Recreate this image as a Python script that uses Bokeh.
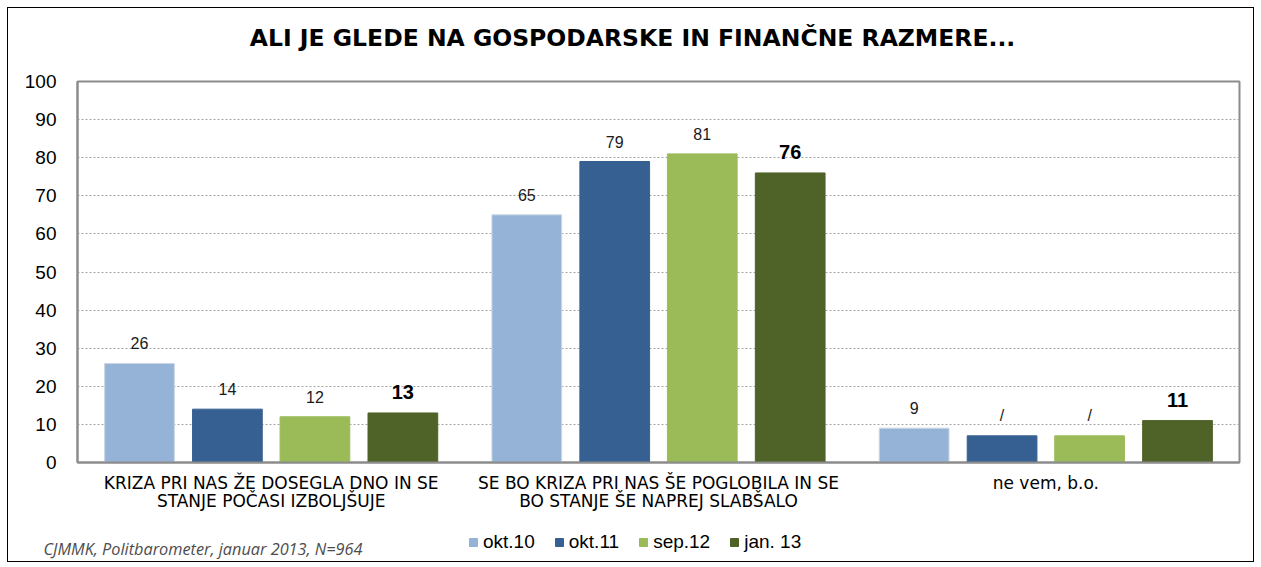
from bokeh.plotting import figure
from bokeh.layouts import column
from bokeh.models import (FactorRange, Range1d, ColumnDataSource, Legend, LegendItem,
                          Label, FixedTicker)
from bokeh.transform import dodge
from bokeh.core.properties import value
from bokeh.embed import file_html
from bokeh.resources import INLINE

categories = ["KRIZA PRI NAS ŽE DOSEGLA DNO IN SE\nSTANJE POČASI IZBOLJŠUJE",
              "SE BO KRIZA PRI NAS ŠE POGLOBILA IN SE\nBO STANJE ŠE NAPREJ SLABŠALO",
              "ne vem, b.o."]
series = ["okt.10", "okt.11", "sep.12", "jan. 13"]
okt10 = [26, 65, 9]
okt11 = [14, 79, 7]
sep12 = [12, 81, 7]
jan13 = [13, 76, 11]
okt10_labels = ["26", "65", "9"]
okt11_labels = ["14", "79", "/"]
sep12_labels = ["12", "81", "/"]
jan13_labels = ["13", "76", "11"]
colors = ["#95B3D7", "#376092", "#9BBB59", "#4F6228"]
y_ticks = [0, 10, 20, 30, 40, 50, 60, 70, 80, 90, 100]
title_text = "ALI JE GLEDE NA GOSPODARSKE IN FINANČNE RAZMERE..."
source_text = "CJMMK, Politbarometer, januar 2013, N=964"

FONT = "Liberation Sans"


def blank_strip(height):
    f = figure(width=1245, height=height, output_backend="svg", toolbar_location=None,
               x_range=Range1d(0, 1), y_range=Range1d(0, 1),
               x_axis_location=None, y_axis_location=None,
               min_border_left=0, min_border_right=0, min_border_top=0, min_border_bottom=0)
    f.outline_line_color = None
    f.xgrid.grid_line_color = None
    f.ygrid.grid_line_color = None
    f.frame_align = False
    return f


# top strip: title
p0 = blank_strip(60)
p0.add_layout(Label(x=624, y=31, x_units="screen", y_units="screen", text=title_text,
                    text_font="DejaVu Sans", text_font_size="23.5px", text_font_style="bold",
                    text_align="center", text_baseline="middle", text_color="#000000"))

# main chart
p = figure(width=1245, height=447, output_backend="svg", toolbar_location=None,
           x_range=FactorRange(factors=categories, range_padding=0),
           y_range=Range1d(0, 100),
           min_border_left=69, min_border_right=14, min_border_top=13, min_border_bottom=53)
p.frame_align = False
p.outline_line_color = "#8C8C8C"
p.outline_line_width = 2

offsets = [-0.34, -0.113, 0.113, 0.34]
vals = [okt10, okt11, sep12, jan13]
labs = [okt10_labels, okt11_labels, sep12_labels, jan13_labels]
for i in range(4):
    src = ColumnDataSource(dict(cat=categories, v=vals[i], lab=labs[i]))
    p.vbar(x=dodge("cat", offsets[i], range=p.x_range), top="v", width=0.18,
           source=src, fill_color=colors[i], line_color="#C9D6E3" if i == 0 else colors[i],
           line_width=1)
    if i < 3:
        p.text(x=dodge("cat", offsets[i], range=p.x_range), y="v", text="lab", source=src,
               text_align="center", text_baseline="middle", y_offset=-20,
               text_font=value(FONT), text_font_size="16px", text_color="#1A1A1A")
    else:
        p.text(x=dodge("cat", offsets[i], range=p.x_range), y="v", text="lab", source=src,
               text_align="center", text_baseline="middle", y_offset=-21,
               text_font=value(FONT), text_font_size="20px", text_font_style="bold",
               text_color="#000000")

# grid
p.xgrid.grid_line_color = None
p.ygrid.ticker = FixedTicker(ticks=y_ticks)
p.ygrid.grid_line_color = "#A6A6A6"
p.ygrid.grid_line_dash = "2 2"
p.ygrid.grid_line_width = 1

# y axis
p.yaxis.ticker = FixedTicker(ticks=y_ticks)
p.yaxis.axis_line_color = "#8C8C8C"
p.yaxis.axis_line_width = 2
p.yaxis.major_tick_line_color = None
p.yaxis.major_tick_out = 0
p.yaxis.major_tick_in = 0
p.yaxis.minor_tick_line_color = None
p.yaxis.major_label_text_font = FONT
p.yaxis.major_label_text_font_size = "19px"
p.yaxis.major_label_text_color = "#000000"
p.yaxis.major_label_standoff = 21

# x axis
p.xaxis.axis_line_color = "#8C8C8C"
p.xaxis.axis_line_width = 2
p.xaxis.major_tick_line_color = None
p.xaxis.major_tick_out = 0
p.xaxis.major_tick_in = 0
p.xaxis.minor_tick_line_color = None
p.xaxis.major_label_text_font = "DejaVu Sans"
p.xaxis.major_label_text_font_size = "17px"
p.xaxis.major_label_text_line_height = 0.92
p.xaxis.major_label_text_color = "#000000"
p.xaxis.major_label_standoff = 10

# bottom strip: legend + source note
p2 = blank_strip(46)
leg_renderers = []
for i in range(4):
    # placeholder glyphs outside the visible range: only their legend swatches are shown
    leg_renderers.append(p2.vbar(x=[5], top=[5], bottom=[4], width=0.1,
                                 fill_color=colors[i], line_color=colors[i]))

legend = Legend(items=[LegendItem(label=series[i], renderers=[leg_renderers[i]]) for i in range(4)],
                orientation="horizontal", location=(460, 8),
                glyph_width=10, glyph_height=10, label_standoff=5, spacing=19,
                padding=0, margin=0, border_line_color=None, background_fill_alpha=0,
                label_text_font=FONT, label_text_font_size="19px", label_text_color="#000000",
                label_height=20)
p2.add_layout(legend, "center")

p2.add_layout(Label(x=35, y=13, x_units="screen", y_units="screen", text=source_text,
                    text_font="Open Sans", text_font_size="16.3px", text_font_style="italic",
                    text_align="left", text_baseline="middle", text_color="#4D4D4D"))

layout = column(p0, p, p2, spacing=0)
layout.styles = {"border": "1px solid #000000", "margin": "7px 0px 0px 7px"}

open("out.html", "w").write(file_html(layout, INLINE))
